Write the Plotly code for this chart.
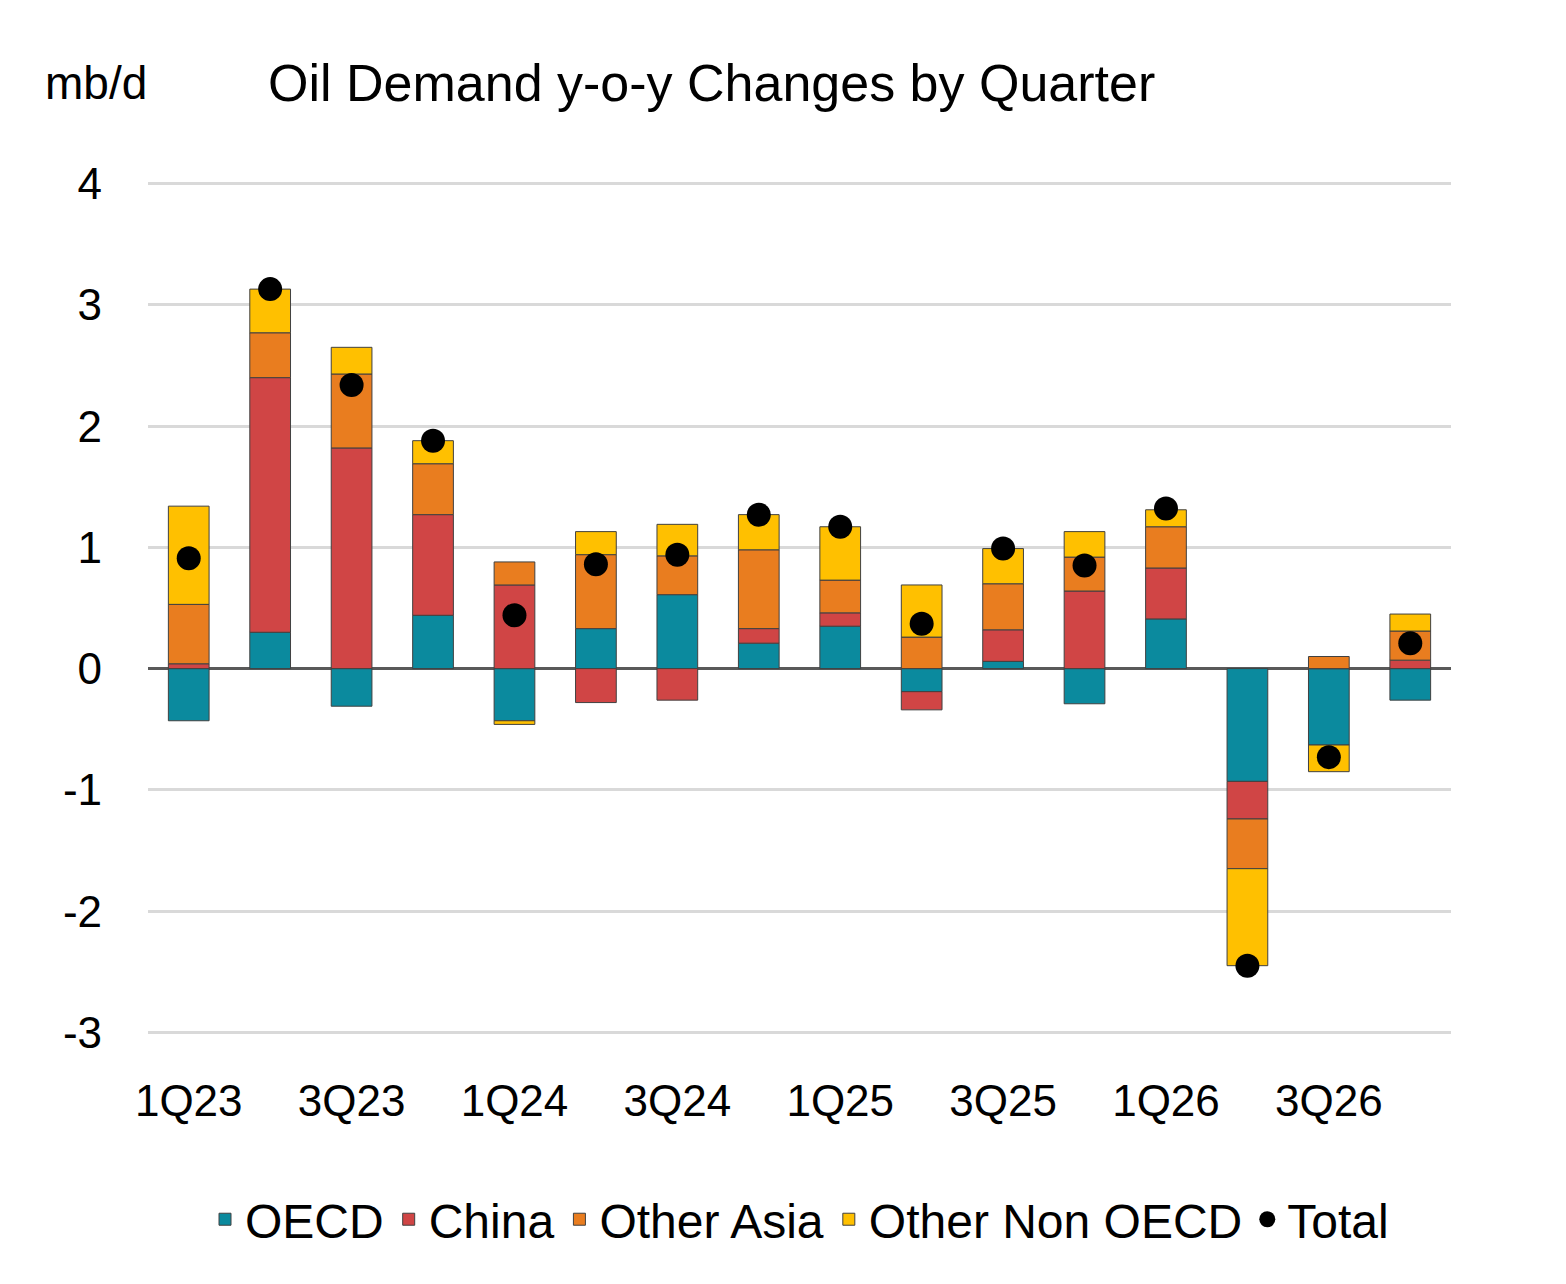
import plotly.graph_objects as go

quarters = ["1Q23", "2Q23", "3Q23", "4Q23", "1Q24", "2Q24", "3Q24", "4Q24",
            "1Q25", "2Q25", "3Q25", "4Q25", "1Q26", "2Q26", "3Q26", "4Q26"]
oecd = [-0.43, 0.30, -0.31, 0.44, -0.43, 0.33, 0.61, 0.21,
        0.35, -0.19, 0.06, -0.29, 0.41, -0.93, -0.63, -0.26]
china = [0.04, 2.10, 1.82, 0.83, 0.69, -0.28, -0.26, 0.12,
         0.11, -0.15, 0.26, 0.64, 0.42, -0.31, 0.0, 0.07]
other_asia = [0.49, 0.37, 0.61, 0.42, 0.19, 0.61, 0.32, 0.65,
              0.27, 0.26, 0.38, 0.28, 0.34, -0.41, 0.10, 0.24]
other_non_oecd = [0.81, 0.36, 0.22, 0.19, -0.03, 0.19, 0.26, 0.29,
                  0.44, 0.43, 0.29, 0.21, 0.14, -0.80, -0.22, 0.14]
total = [0.91, 3.13, 2.34, 1.88, 0.44, 0.86, 0.94, 1.27,
         1.17, 0.37, 0.99, 0.85, 1.32, -2.45, -0.73, 0.21]
y_ticks = [4, 3, 2, 1, 0, -1, -2, -3]

series = [("OECD", oecd, "#0B8A9E"), ("China", china, "#D04545"),
          ("Other Asia", other_asia, "#E97D1F"),
          ("Other Non OECD", other_non_oecd, "#FFC000")]

fig = go.Figure()
for name, vals, color in series:
    fig.add_trace(go.Bar(x=list(range(len(quarters))), y=vals, name=name,
                         marker_color=color,
                         marker_line=dict(color="#404040", width=1), width=0.5))
fig.add_trace(go.Scatter(x=list(range(len(quarters))), y=total, name="Total",
                         mode="markers", marker=dict(color="black", size=24)))

font = "Liberation Sans, Arial, sans-serif"
fig.update_layout(
    width=1566, height=1284, barmode="relative",
    plot_bgcolor="white", paper_bgcolor="white",
    font=dict(family=font, size=44, color="black"),
    margin=dict(l=140, r=123, t=172, b=256),
    legend=dict(orientation="h", x=0.5, xanchor="center", y=-0.17, yanchor="top",
                font=dict(size=48), itemwidth=30, tracegroupgap=0),
)
fig.add_annotation(text="mb/d", x=(35 - 140) / 1303, y=1 + (172 - 75) / 856,
                   xref="paper", yref="paper", showarrow=False,
                   xanchor="left", yanchor="middle", font=dict(size=46))
fig.add_annotation(text="Oil Demand y-o-y Changes by Quarter",
                   x=(258 - 140) / 1303, y=1 + (172 - 75) / 856,
                   xref="paper", yref="paper", showarrow=False,
                   xanchor="left", yanchor="middle", font=dict(size=52))
fig.update_yaxes(range=[-3.03, 4.03], tickvals=y_ticks,
                 ticktext=[str(v) for v in y_ticks], showgrid=True,
                 gridcolor="#D9D9D9", gridwidth=3, zeroline=True,
                 zerolinecolor="#595959", zerolinewidth=3,
                 tickfont=dict(size=44), ticklabelstandoff=45)
fig.update_xaxes(range=[-0.5, 15.5], tickvals=list(range(0, 16, 2)),
                 ticktext=quarters[::2], tickfont=dict(size=44),
                 showgrid=False, showline=False, ticks="", ticklabelstandoff=35)
fig.write_html("out.html")
